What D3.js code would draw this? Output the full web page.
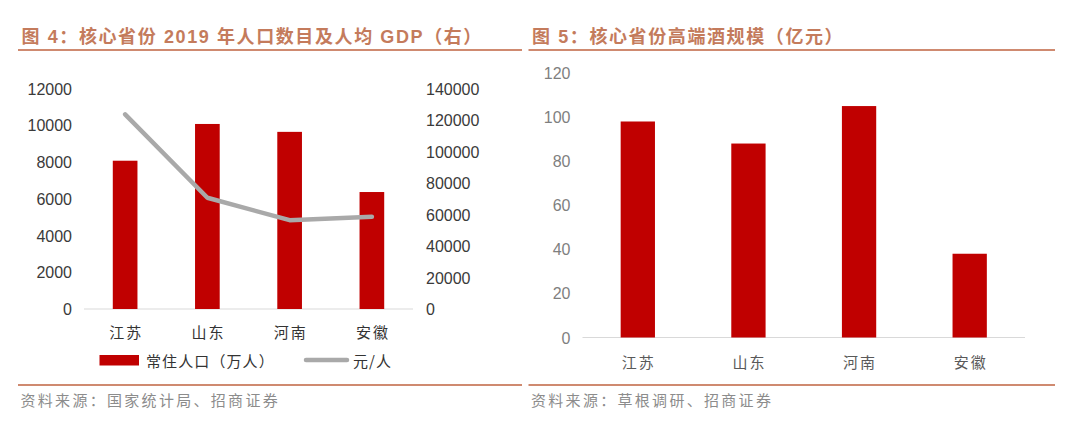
<!DOCTYPE html>
<html>
<head>
<meta charset="utf-8">
<script src="https://cdn.jsdelivr.net/npm/d3@7/dist/d3.min.js"></script>
<style>
  html, body { margin: 0; padding: 0; background: #fff; }
  svg { display: block; }
  .num { font-family: "Liberation Sans", Arial, sans-serif; font-size: 16px; }
  .cjk { font-family: "Noto Sans CJK SC", sans-serif; }
  .title { font-family: "Liberation Sans", Arial, "Noto Sans CJK SC", sans-serif; }
</style>
</head>
<body>
<div id="chart"></div>
<script>
// Figure 4: population (bars, left axis) and GDP per capita (line, right axis)
const provinces = ["江苏", "山东", "河南", "安徽"];
const population = [8070, 10070, 9640, 6366];        // 万人
const gdpPerCapita = [123607, 70653, 56388, 58496];  // 元/人
const popTicks = [0, 2000, 4000, 6000, 8000, 10000, 12000];
const gdpTicks = [0, 20000, 40000, 60000, 80000, 100000, 120000, 140000];

// Figure 5: high-end liquor market size
const liquorSize = [98, 88, 105, 38];                 // 亿元
const liquorTicks = [0, 20, 40, 60, 80, 100, 120];

const TITLE_COLOR = "#c47b5c";
const RULE_COLOR = "#cf8a70";
const BAR_COLOR = "#c00000";
const LINE_COLOR = "#a9a9a9";

const svg = d3.select("#chart").append("svg")
  .attr("width", 1080)
  .attr("height", 422);

svg.append("rect").attr("width", 1080).attr("height", 422).attr("fill", "#fff");

// frame pieces: title, rule under it, rule over source, source text
function panelFrame(x0, x1, title, source) {
  svg.append("text")
    .attr("class", "title")
    .attr("x", x0 + 3.5).attr("y", 37)
    .attr("dominant-baseline", "central")
    .attr("font-size", "18px").attr("font-weight", "bold")
    .attr("letter-spacing", "1.6px")
    .attr("fill", TITLE_COLOR)
    .text(title);
  svg.append("line")
    .attr("x1", x0).attr("x2", x1).attr("y1", 50).attr("y2", 50)
    .attr("stroke", RULE_COLOR).attr("stroke-width", 2);
  svg.append("line")
    .attr("x1", x0).attr("x2", x1).attr("y1", 385).attr("y2", 385)
    .attr("stroke", RULE_COLOR).attr("stroke-width", 2);
  svg.append("text")
    .attr("class", "cjk")
    .attr("x", x0 + 2.5).attr("y", 399)
    .attr("dominant-baseline", "central")
    .attr("font-size", "15px")
    .attr("letter-spacing", "2.3px")
    .attr("fill", "#8c8c8c")
    .text(source);
}

function valueAxis(g, scale, ticks, orient, color) {
  const axis = (orient === "left" ? d3.axisLeft(scale) : d3.axisRight(scale))
    .tickValues(ticks).tickSize(0).tickPadding(0).tickFormat(d3.format("d"));
  g.call(axis);
  g.select(".domain").remove();
  g.selectAll("text")
    .attr("class", "num")
    .attr("font-size", null).attr("font-family", null)
    .attr("dy", null)
    .attr("dominant-baseline", "central")
    .attr("fill", color);
}

function categoryAxis(g, scale, color) {
  g.call(d3.axisBottom(scale).tickSize(0).tickPadding(0));
  g.select(".domain").remove();
  g.selectAll("text")
    .attr("class", "cjk")
    .attr("font-size", "15px").attr("font-family", null)
    .attr("letter-spacing", "2px")
    .attr("dy", null)
    .attr("dominant-baseline", "central")
    .attr("fill", color);
}

// ---------- Figure 4 ----------
panelFrame(18, 522, "图 4：核心省份 2019 年人口数目及人均 GDP（右）", "资料来源：国家统计局、招商证券");

const x4 = d3.scaleBand().domain(provinces).range([84, 413]).paddingInner(0.7).paddingOuter(0.35);
const yPop = d3.scaleLinear().domain([0, 12000]).range([309, 88.5]);
const yGdp = d3.scaleLinear().domain([0, 140000]).range([309, 88.5]);

valueAxis(svg.append("g").attr("transform", "translate(72,0)"), yPop, popTicks, "left", "#3a3a3a");
valueAxis(svg.append("g").attr("transform", "translate(426,0)"), yGdp, gdpTicks, "right", "#3a3a3a");

svg.append("line")
  .attr("x1", x4.range()[0]).attr("x2", x4.range()[1])
  .attr("y1", yPop(0)).attr("y2", yPop(0))
  .attr("stroke", "#d9d9d9").attr("stroke-width", 1.2);

svg.append("g").selectAll("rect")
  .data(provinces)
  .join("rect")
  .attr("x", d => x4(d))
  .attr("width", x4.bandwidth())
  .attr("y", (d, i) => yPop(population[i]))
  .attr("height", (d, i) => yPop(0) - yPop(population[i]))
  .attr("fill", BAR_COLOR);

svg.append("path")
  .datum(provinces)
  .attr("fill", "none")
  .attr("stroke", LINE_COLOR)
  .attr("stroke-width", 4.5)
  .attr("stroke-linecap", "round")
  .attr("stroke-linejoin", "round")
  .attr("d", d3.line()
    .x(d => x4(d) + x4.bandwidth() / 2)
    .y((d, i) => yGdp(gdpPerCapita[i])));

categoryAxis(svg.append("g").attr("transform", "translate(1,331)"), x4, "#333");

// legend
const legend = svg.append("g");
legend.append("rect")
  .attr("x", 99.5).attr("y", 355).attr("width", 39.5).attr("height", 10.5)
  .attr("fill", BAR_COLOR);
legend.append("text")
  .attr("class", "cjk")
  .attr("x", 146).attr("y", 360)
  .attr("dominant-baseline", "central")
  .attr("font-size", "15px").attr("letter-spacing", "1.1px")
  .attr("fill", "#333")
  .text("常住人口（万人）");
legend.append("line")
  .attr("x1", 306).attr("x2", 347).attr("y1", 360).attr("y2", 360)
  .attr("stroke", LINE_COLOR).attr("stroke-width", 4.5)
  .attr("stroke-linecap", "round");
legend.append("text")
  .attr("class", "cjk")
  .attr("x", 353).attr("y", 360)
  .attr("dominant-baseline", "central")
  .attr("font-size", "15px").attr("letter-spacing", "1px")
  .attr("fill", "#333")
  .text("元/人");

// ---------- Figure 5 ----------
panelFrame(528.5, 1055, "图 5：核心省份高端酒规模（亿元）", "资料来源：草根调研、招商证券");

const x5 = d3.scaleBand().domain(provinces).range([582.5, 1025]).paddingInner(0.69).paddingOuter(0.345);
const yLiq = d3.scaleLinear().domain([0, 120]).range([337.5, 73]);

valueAxis(svg.append("g").attr("transform", "translate(570.5,0)"), yLiq, liquorTicks, "left", "#7f7f7f");

svg.append("line")
  .attr("x1", x5.range()[0]).attr("x2", x5.range()[1])
  .attr("y1", yLiq(0)).attr("y2", yLiq(0))
  .attr("stroke", "#d9d9d9").attr("stroke-width", 1.2);

svg.append("g").selectAll("rect")
  .data(provinces)
  .join("rect")
  .attr("x", d => x5(d))
  .attr("width", x5.bandwidth())
  .attr("y", (d, i) => yLiq(liquorSize[i]))
  .attr("height", (d, i) => yLiq(0) - yLiq(liquorSize[i]))
  .attr("fill", BAR_COLOR);

categoryAxis(svg.append("g").attr("transform", "translate(1,361)"), x5, "#595959");
</script>
</body>
</html>
